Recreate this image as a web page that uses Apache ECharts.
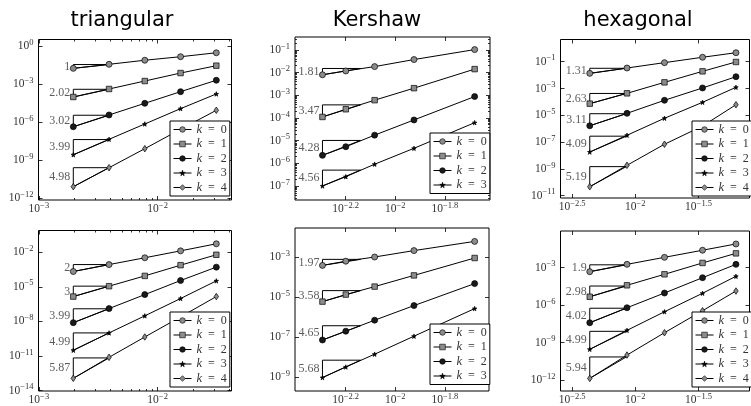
<!DOCTYPE html>
<html>
<head>
<meta charset="utf-8">
<script src="https://cdn.jsdelivr.net/npm/echarts@6/dist/echarts.min.js"></script>
<style>
  html, body { margin: 0; padding: 0; background: #fff; }
  #main { width: 751px; height: 406px; }
</style>
</head>
<body>
<div id="main"></div>
<script>
// legend names and panel titles
const kLabels = ['k = 0', 'k = 1', 'k = 2', 'k = 3', 'k = 4'];
const titles = ['triangular', 'Kershaw', 'hexagonal'];

// mesh sizes h (x values)
const hTri = [1.95e-3, 3.9e-3, 7.8e-3, 1.56e-2, 3.12e-2];
const hKer = [5.09e-3, 6.32e-3, 8.26e-3, 1.19e-2, 2.09e-2];
const hHex = [4.36e-3, 8.59e-3, 1.70e-2, 3.40e-2, 6.25e-2];

// errors, one row per k (top row of plots)
const triTopErr = [
  [1.82e-2, 3.80e-2, 7.94e-2, 1.51e-1, 3.09e-1],
  [1.0e-4, 4.27e-4, 1.82e-3, 7.76e-3, 2.95e-2],
  [4.47e-7, 3.80e-6, 3.16e-5, 2.63e-4, 2.09e-3],
  [2.75e-9, 4.57e-8, 7.41e-7, 1.20e-5, 1.74e-4],
  [8.32e-12, 2.63e-10, 8.32e-9, 2.82e-7, 8.91e-6]
];
const kerTopErr = [
  [7.94e-3, 1.17e-2, 1.82e-2, 3.72e-2, 1.02e-1],
  [1.10e-4, 2.40e-4, 6.03e-4, 2.04e-3, 1.41e-2],
  [2.24e-6, 5.37e-6, 1.74e-5, 8.13e-5, 8.71e-4],
  [1.0e-7, 2.57e-7, 9.12e-7, 4.57e-6, 6.17e-5]
];
const hexTopErr = [
  [1.35e-2, 3.39e-2, 8.51e-2, 2.14e-1, 4.68e-1],
  [7.41e-5, 4.37e-4, 2.88e-3, 1.91e-2, 9.55e-2],
  [1.66e-6, 1.41e-5, 1.32e-4, 1.10e-3, 7.59e-3],
  [1.82e-8, 3.24e-7, 6.03e-6, 9.33e-5, 1.23e-3],
  [4.68e-11, 1.86e-9, 6.92e-8, 1.58e-6, 6.17e-5]
];
// errors, bottom row of plots
const triBotErr = [
  [2.09e-4, 8.32e-4, 3.24e-3, 1.29e-2, 5.25e-2],
  [1.41e-6, 1.12e-5, 8.71e-5, 7.41e-4, 5.89e-3],
  [7.76e-9, 1.29e-7, 2.09e-6, 3.47e-5, 5.01e-4],
  [3.16e-11, 1.0e-9, 3.02e-8, 9.55e-7, 3.24e-5],
  [1.17e-13, 7.76e-12, 4.47e-10, 2.45e-8, 1.41e-6]
];
const kerBotErr = [
  [3.80e-4, 6.17e-4, 1.0e-3, 2.09e-3, 6.03e-3],
  [5.89e-6, 1.32e-5, 3.31e-5, 1.20e-4, 8.91e-4],
  [7.08e-8, 1.95e-7, 6.92e-7, 3.72e-6, 4.68e-5],
  [9.33e-10, 3.16e-9, 1.38e-8, 1.10e-7, 2.63e-6]
];
const hexBotErr = [
  [4.79e-4, 1.86e-3, 6.76e-3, 2.51e-2, 7.94e-2],
  [4.68e-6, 3.89e-5, 2.95e-4, 2.40e-3, 1.41e-2],
  [3.89e-8, 6.17e-7, 9.33e-6, 1.58e-4, 1.86e-3],
  [2.88e-10, 9.55e-9, 2.95e-7, 8.91e-6, 2.04e-4],
  [1.35e-12, 1.0e-10, 6.17e-9, 3.55e-7, 1.35e-5]
];

// convergence rates written next to the slope triangles
const triTopRates = [1, 2.02, 3.02, 3.99, 4.98];
const kerTopRates = [1.81, 3.47, 4.28, 4.56];
const hexTopRates = [1.31, 2.63, 3.11, 4.09, 5.19];
const triBotRates = [2, 3, 3.99, 4.99, 5.87];
const kerBotRates = [1.97, 3.58, 4.65, 5.68];
const hexBotRates = [1.9, 2.98, 4.02, 4.99, 5.94];

// tick labels (powers of ten)
const triXTicks = [-3, -2];
const kerXTicks = [-2.2, -2, -1.8];
const hexXTicks = [-2.5, -2, -1.5];
const triTopYTicks = [0, -3, -6, -9, -12];
const kerTopYTicks = [-1, -2, -3, -4, -5, -6, -7];
const hexTopYTicks = [-1, -3, -5, -7, -9, -11];
const triBotYTicks = [-2, -5, -8, -11, -14];
const kerBotYTicks = [-3, -5, -7, -9];
const hexBotYTicks = [-3, -6, -9, -12];

// layout: box = [left, top, right, bottom] in px, x/y = exponent range
const panels = [
  {h: hTri, err: triTopErr, rates: triTopRates, box: [38.5, 39.5, 231.5, 200], x: [-3.003, -1.378], y: [-12.13, 0.537], xt: triXTicks, yt: triTopYTicks, xMinor: true, yMinor: false, leg: [170, 121]},
  {h: hKer, err: kerTopErr, rates: kerTopRates, box: [295, 37, 490, 200], x: [-2.404, -1.618], y: [-7.617, -0.436], xt: kerXTicks, yt: kerTopYTicks, xMinor: false, yMinor: true, leg: [430, 133]},
  {h: hHex, err: hexTopErr, rates: hexTopRates, box: [560.5, 39.5, 749.5, 198], x: [-2.592, -1.097], y: [-11.17, 0.657], xt: hexXTicks, yt: hexTopYTicks, xMinor: false, yMinor: false, leg: [692, 121]},
  {h: hTri, err: triBotErr, rates: triBotRates, box: [38.5, 230.5, 231.5, 391], x: [-3.003, -1.378], y: [-14.03, -0.127], xt: triXTicks, yt: triBotYTicks, xMinor: true, yMinor: false, leg: [170, 312]},
  {h: hKer, err: kerBotErr, rates: kerBotRates, box: [295, 228, 489, 391], x: [-2.404, -1.622], y: [-9.7, -1.55], xt: kerXTicks, yt: kerBotYTicks, xMinor: false, yMinor: false, leg: [430, 324]},
  {h: hHex, err: hexBotErr, rates: hexBotRates, box: [560.5, 231, 749.5, 391], x: [-2.592, -1.097], y: [-12.88, -0.06], xt: hexXTicks, yt: hexBotYTicks, xMinor: false, yMinor: false, leg: [692, 312]}
];

const serif = '"Liberation Serif", "DejaVu Serif", serif';
const gray = '#8c8c8c';
const starPath = 'path://M50,0 L61,35 L98,35 L68,57 L79,91 L50,70 L21,91 L32,57 L2,35 L39,35 Z';
const symbols = [
  {symbol: 'circle', size: 6, color: gray},
  {symbol: 'rect', size: 5.5, color: gray},
  {symbol: 'circle', size: 6, color: '#1a1a1a'},
  {symbol: starPath, size: 4.5, color: '#000'},
  {symbol: 'diamond', size: [4.5, 6.5], color: gray}
];

function pow10(e) { return Math.pow(10, e); }

function expLabel(v) {
  const e = Math.round(Math.log10(v) * 10) / 10;
  const s = (e < 0 ? '\u2212' : '') + Math.abs(e);
  return '{b|10}{s|' + s + '}';
}

// minor ticks 2..9 x 10^d inside a range
function minorTicks(range) {
  const out = [];
  for (let d = Math.floor(range[0]); d <= Math.ceil(range[1]); d++) {
    for (let m = 2; m <= 9; m++) {
      const v = m * pow10(d);
      if (v > pow10(range[0]) && v < pow10(range[1])) out.push(v);
    }
  }
  return out;
}

function logAxis(gi, pos, range, ticks, showLabel, len) {
  return {
    type: 'log', logBase: 10, gridIndex: gi, position: pos,
    min: pow10(range[0]), max: pow10(range[1]),
    axisLine: {show: false},
    splitLine: {show: false},
    minorTick: {show: false},
    axisTick: {show: true, inside: true, length: len, customValues: ticks, lineStyle: {color: '#000', width: 0.8}},
    axisLabel: {
      show: showLabel, customValues: ticks,
      margin: (pos === 'left') ? 5 : 1,
      formatter: expLabel,
      color: '#333',
      rich: {
        b: {fontFamily: serif, fontSize: 11.5, lineHeight: 16, color: '#333'},
        s: {fontFamily: serif, fontSize: 8.5, lineHeight: 9, verticalAlign: 'top', color: '#333'}
      }
    }
  };
}

const titleFont = '21px "DejaVu Sans"';
const option = {
  backgroundColor: '#fff',
  animation: false,
  grid: [], xAxis: [], yAxis: [], series: [], legend: [],
  graphic: [
    {type: 'text', x: 122, y: 21, style: {text: titles[0], font: titleFont, fill: '#000', textAlign: 'center', textVerticalAlign: 'middle'}},
    {type: 'text', x: 377, y: 21, style: {text: titles[1], font: titleFont, fill: '#000', textAlign: 'center', textVerticalAlign: 'middle'}},
    {type: 'text', x: 638, y: 21, style: {text: titles[2], font: titleFont, fill: '#000', textAlign: 'center', textVerticalAlign: 'middle'}}
  ]
};

panels.forEach(function (p, gi) {
  option.grid.push({
    left: p.box[0], top: p.box[1], width: p.box[2] - p.box[0], height: p.box[3] - p.box[1],
    show: true, borderColor: '#000', borderWidth: 1, backgroundColor: 'transparent'
  });
  const xt = p.xt.map(pow10), yt = p.yt.map(pow10);
  const xi = option.xAxis.length, yi = option.yAxis.length;
  option.xAxis.push(logAxis(gi, 'bottom', p.x, xt, true, 4));
  option.xAxis.push(logAxis(gi, 'top', p.x, xt, false, 4));
  option.yAxis.push(logAxis(gi, 'left', p.y, yt, true, 4));
  option.yAxis.push(logAxis(gi, 'right', p.y, yt, false, 4));
  if (p.xMinor) {
    const mt = minorTicks(p.x);
    option.xAxis.push(logAxis(gi, 'bottom', p.x, mt, false, 2));
    option.xAxis.push(logAxis(gi, 'top', p.x, mt, false, 2));
  }
  if (p.yMinor) {
    const mt = minorTicks(p.y);
    option.yAxis.push(logAxis(gi, 'left', p.y, mt, false, 2));
    option.yAxis.push(logAxis(gi, 'right', p.y, mt, false, 2));
  }

  const n = p.h.length;
  const w = Math.log10(p.h[n - 1] / p.h[0]) / (n - 1);
  p.err.forEach(function (row, k) {
    const sym = symbols[k];
    option.series.push({
      name: kLabels[k], type: 'line', xAxisIndex: xi, yAxisIndex: yi,
      data: row.map(function (v, j) { return [p.h[j], v]; }),
      symbol: sym.symbol, symbolSize: sym.size, showAllSymbol: true,
      lineStyle: {color: '#000', width: 1},
      itemStyle: {color: sym.color, borderColor: '#000', borderWidth: 0.7},
      z: 3
    });
    // slope triangle
    const rate = p.rates[k];
    const x1 = p.h[0], y1 = row[0];
    const x2 = x1 * Math.pow(10, w), yTop = y1 * Math.pow(10, rate * w);
    option.series.push({
      type: 'line', xAxisIndex: xi, yAxisIndex: yi, silent: true,
      data: [[x1, y1], [x1, yTop], [x2, yTop], [x1, y1]],
      symbol: 'none', lineStyle: {color: '#000', width: 1}, z: 2
    });
    option.series.push({
      type: 'scatter', xAxisIndex: xi, yAxisIndex: yi, silent: true,
      data: [[x1, Math.sqrt(y1 * yTop)]], symbolSize: 0,
      label: {show: true, position: 'left', distance: 3, formatter: String(rate),
        fontFamily: serif, fontSize: 12, color: '#333'},
      z: 2
    });
  });

  option.legend.push({
    left: p.leg[0], top: p.leg[1], orient: 'vertical',
    data: kLabels.slice(0, p.err.length),
    selectedMode: false,
    backgroundColor: '#fff', borderColor: '#000', borderWidth: 1, borderRadius: 0,
    padding: [2, 3, 2, 3], itemGap: 1.5, itemWidth: 18, itemHeight: 7,
    itemStyle: {borderWidth: 0.6},
    lineStyle: {width: 1},
    formatter: function (name) { return '{i|k}  =  ' + name.slice(4); },
    textStyle: {
      fontFamily: serif, fontSize: 12, color: '#333', lineHeight: 13,
      rich: {i: {fontFamily: serif, fontSize: 12.5, fontStyle: 'italic', color: '#333', lineHeight: 13}}
    },
    z: 10
  });
});

const chart = echarts.init(document.getElementById('main'));
chart.setOption(option);
</script>
</body>
</html>
